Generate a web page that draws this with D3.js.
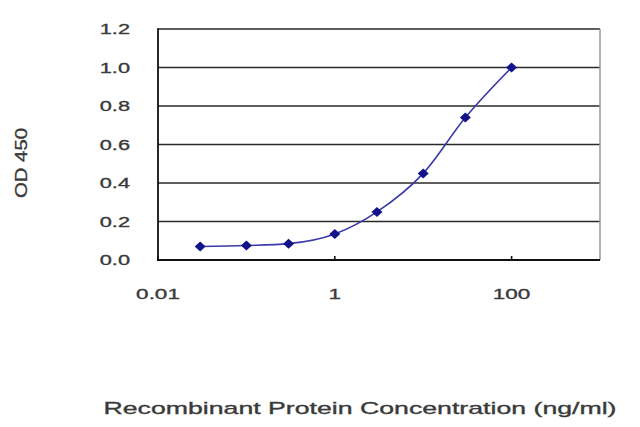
<!DOCTYPE html>
<html><head><meta charset="utf-8">
<script src="https://cdn.jsdelivr.net/npm/d3@7"></script>
<style>
html,body{margin:0;padding:0;background:#fff;}
text{font-family:"Liberation Sans",Arial,sans-serif;fill:#3a3a3a;stroke:#3a3a3a;stroke-width:0.35;}
</style></head>
<body>
<svg id="chart" width="640" height="427"></svg>
<script>
const concentrations = [0.03, 0.1, 0.3, 1, 3, 10, 30, 100];
const odValues = [0.07, 0.075, 0.085, 0.135, 0.25, 0.45, 0.74, 1.0];
const yTicks = [0.0, 0.2, 0.4, 0.6, 0.8, 1.0, 1.2];
const xTicks = [0.01, 1, 100];
const xTickLabels = ["0.01", "1", "100"];
const yTitle = "OD 450";
const xTitle = "Recombinant Protein Concentration (ng/ml)";

(function () {
const svg = d3.select("#chart");
const pL = 158, pR = 600, pT = 29, pB = 260;
const x = d3.scaleLog().domain([0.01, 1000]).range([pL, pR]);
const y = d3.scaleLinear().domain([0, 1.2]).range([pB, pT]);

svg.append("g").selectAll("line").data(yTicks.filter(d => d > 0)).join("line")
  .attr("x1", pL).attr("x2", pR)
  .attr("y1", d => y(d)).attr("y2", d => y(d))
  .attr("stroke", "#2a2a2a").attr("stroke-width", 1.6);
svg.append("line").attr("x1", pR).attr("x2", pR).attr("y1", pT).attr("y2", pB)
  .attr("stroke", "#999").attr("stroke-width", 1.5);
svg.append("line").attr("x1", pL).attr("x2", pL).attr("y1", pT - 0.8).attr("y2", pB + 1)
  .attr("stroke", "#111").attr("stroke-width", 1.8);
svg.append("line").attr("x1", pL - 1).attr("x2", pR).attr("y1", pB).attr("y2", pB)
  .attr("stroke", "#111").attr("stroke-width", 1.8);
svg.append("g").selectAll("line").data(xTicks).join("line")
  .attr("x1", d => x(d)).attr("x2", d => x(d)).attr("y1", pB).attr("y2", pB - 4)
  .attr("stroke", "#111").attr("stroke-width", 1.6);

svg.append("g").selectAll("text").data(yTicks).join("text")
  .attr("transform", d => `translate(130,${y(d)}) scale(1.45,1)`)
  .attr("text-anchor", "end").attr("dy", "0.36em")
  .attr("font-size", 15).text(d => d.toFixed(1));
svg.append("g").selectAll("text").data(xTicks).join("text")
  .attr("transform", d => `translate(${x(d)},299) scale(1.5,1)`)
  .attr("text-anchor", "middle")
  .attr("font-size", 15).text((d, i) => xTickLabels[i]);

svg.append("text").attr("transform", "translate(27,163) rotate(-90)")
  .attr("text-anchor", "middle").attr("font-size", 16)
  .attr("textLength", 70).attr("lengthAdjust", "spacingAndGlyphs").text(yTitle);
svg.append("text").attr("x", 360).attr("y", 414)
  .attr("text-anchor", "middle").attr("font-size", 17)
  .attr("textLength", 513).attr("lengthAdjust", "spacingAndGlyphs").text(xTitle);

const pts = concentrations.map((c, i) => [c, odValues[i]]);
svg.append("path").datum(pts)
  .attr("d", d3.line().x(d => x(d[0])).y(d => y(d[1])).curve(d3.curveMonotoneX))
  .attr("fill", "none").attr("stroke", "#3a3aa8").attr("stroke-width", 1.6);
svg.append("g").selectAll("path").data(pts).join("path")
  .attr("transform", d => `translate(${x(d[0])},${y(d[1])})`)
  .attr("d", "M0,-5 L5.5,0 L0,5 L-5.5,0 Z")
  .attr("fill", "#12128a");
})();
</script>
</body></html>
